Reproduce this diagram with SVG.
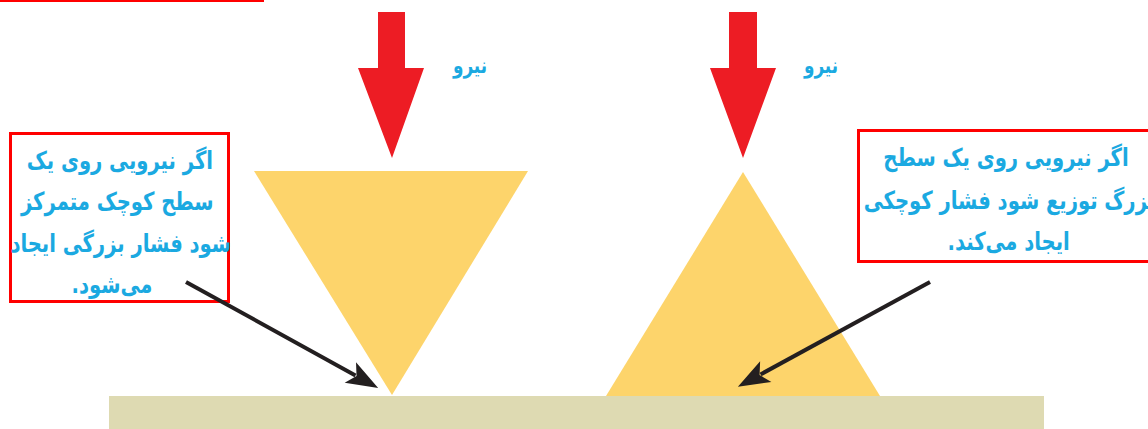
<svg xmlns="http://www.w3.org/2000/svg" width="1148" height="429" viewBox="0 0 1148 429">
<style>
.box{fill:#fff;stroke:#ff0000;stroke-width:3}
.txt{font-family:"DejaVu Sans Condensed","DejaVu Sans",sans-serif;font-stretch:condensed;font-weight:bold;fill:#1ba9e1;direction:rtl;text-anchor:middle}
.big{font-size:25px}
.lbl{font-size:22px}
.force{fill:#ed1c24}
.tri{fill:#fdd46b}
.conn{stroke:#231f20;stroke-width:4;fill:none}
</style>
<defs>
<marker id="ah" markerUnits="userSpaceOnUse" markerWidth="40" markerHeight="30" viewBox="-2 -12 34 24" refX="5" refY="0" orient="auto">
<path d="M0,-10 L27,0 L0,10 L6,0 Z" fill="#231f20"/>
</marker>
</defs>
<rect x="0" y="0" width="264" height="2" fill="#ff0000"/>
<g id="ground"><rect x="109" y="396" width="935" height="33" fill="#dedab2"/></g>
<g id="inverted-triangle"><polygon class="tri" points="254,171 528,171 392,395"/></g>
<g id="upright-triangle"><polygon class="tri" points="743,172 880,396 606,396"/></g>
<g id="force-left">
<polygon class="force" points="378,12 405,12 405,68 424,68 392,158 358,68 378,68"/>
<text class="txt lbl" x="470" y="73" transform="translate(470,0) scale(0.85,1) translate(-470,0)">نیرو</text>
</g>
<g id="force-right">
<polygon class="force" points="729,12 757,12 757,68 776,68 743,158 710,68 729,68"/>
<text class="txt lbl" x="821" y="73" transform="translate(821,0) scale(0.85,1) translate(-821,0)">نیرو</text>
</g>
<g id="note-left">
<rect class="box" x="10.5" y="133.5" width="218" height="168"/>
<g transform="translate(119,0) scale(0.87,1)">
<text class="txt big" x="1" y="169">اگر نیرویی روی یک</text>
<text class="txt big" x="-2" y="210">سطح کوچک متمرکز</text>
<text class="txt big" x="2" y="252">شود فشار بزرگی ایجاد</text>
<text class="txt big" x="-8" y="293">می&#8204;شود.</text>
</g>
</g>
<g id="note-right">
<rect class="box" x="858.5" y="130.5" width="300" height="131"/>
<g transform="translate(1006,0) scale(0.87,1)">
<text class="txt big" x="0" y="166">اگر نیرویی روی یک سطح</text>
<text class="txt big" x="4" y="209">بزرگ توزیع شود فشار کوچکی</text>
<text class="txt big" x="3" y="250">ایجاد می&#8204;کند.</text>
</g>
</g>
<g id="connectors">
<line class="conn" x1="186" y1="282" x2="355.5" y2="375.4" marker-end="url(#ah)"/>
<line class="conn" x1="930" y1="282" x2="760.6" y2="374.4" marker-end="url(#ah)"/>
</g>
</svg>
